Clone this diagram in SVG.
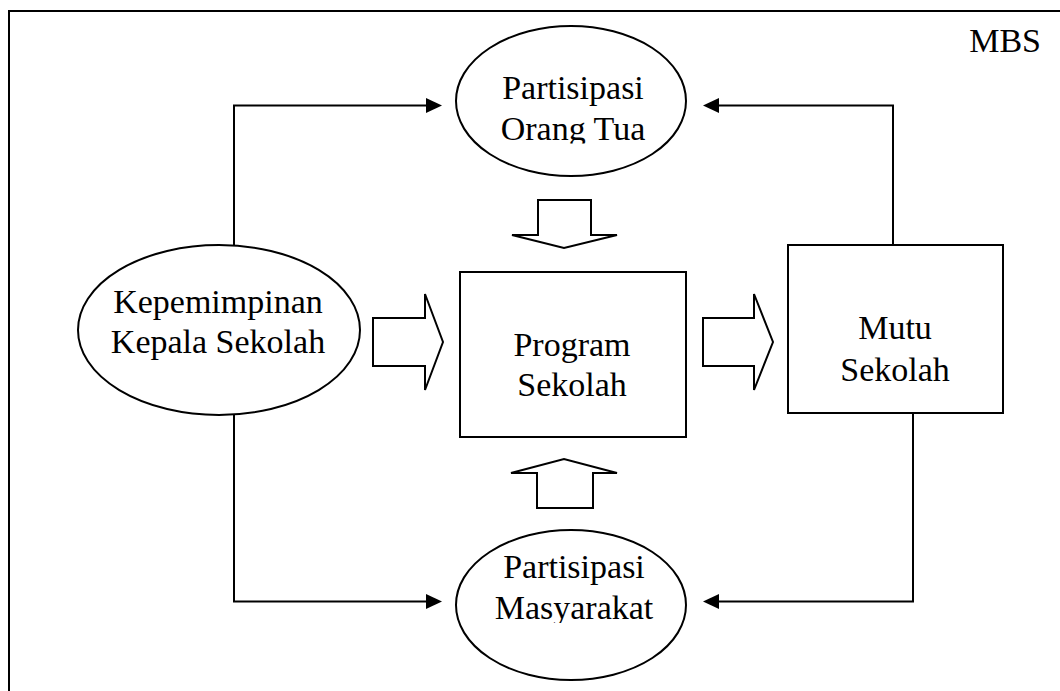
<svg xmlns="http://www.w3.org/2000/svg" width="1060" height="691" viewBox="0 0 1060 691">
<style>
.shape{fill:#fff;stroke:#000;stroke-width:2}
.conn{fill:none;stroke:#000;stroke-width:2}
.blk{fill:#fff;stroke:#000;stroke-width:2;stroke-linejoin:miter}
.t{font-family:"Liberation Serif","Times New Roman",serif;font-size:34px;fill:#000;text-anchor:middle}
</style>
<defs>
<marker id="ah" markerUnits="userSpaceOnUse" markerWidth="18" markerHeight="16" refX="10" refY="7.5" orient="auto">
<path d="M0,0 L16,7.5 L0,15 Z" fill="#000"/>
</marker>
<clipPath id="c1"><rect x="440" y="20" width="260" height="123.5"/></clipPath>
<clipPath id="c2"><rect x="440" y="520" width="260" height="103"/></clipPath>
</defs>
<rect id="frame" x="9" y="11" width="1070" height="700" fill="none" stroke="#000" stroke-width="2"/>
<g id="mbs"><text class="t" x="1041" y="52" style="text-anchor:end">MBS</text></g>
<g id="connectors">
<path class="conn" d="M234,248 V105.5 H436" marker-end="url(#ah)"/>
<path class="conn" d="M893,245 V105.5 H709" marker-end="url(#ah)"/>
<path class="conn" d="M234,412 V601.5 H436" marker-end="url(#ah)"/>
<path class="conn" d="M913,413 V601.5 H709" marker-end="url(#ah)"/>
<polygon class="blk" points="538,200 591,200 591,235 617,235 564,248 512,235 538,235"/>
<polygon class="blk" points="537,508 593,508 593,473 617,473 564,459 511,473 537,473"/>
<polygon class="blk" points="373,318 425,318 425,294 443,342 425,390 425,366 373,366"/>
<polygon class="blk" points="703,318 754,318 754,294 773,342 754,390 754,366 703,366"/>
</g>
<g id="ortu">
<ellipse class="shape" cx="571" cy="101" rx="115" ry="75"/>
<g clip-path="url(#c1)">
<text class="t" x="573" y="99">Partisipasi</text>
<text class="t" x="573" y="140">Orang Tua</text>
</g>
</g>
<g id="masyarakat">
<ellipse class="shape" cx="571" cy="605" rx="115" ry="75"/>
<g clip-path="url(#c2)">
<text class="t" x="574" y="578">Partisipasi</text>
<text class="t" x="574" y="619">Masyarakat</text>
</g>
</g>
<g id="kepemimpinan">
<ellipse class="shape" cx="219" cy="330" rx="141" ry="85"/>
<text class="t" x="218" y="313">Kepemimpinan</text>
<text class="t" x="218" y="353">Kepala Sekolah</text>
</g>
<g id="program">
<rect class="shape" x="460" y="272" width="226" height="165"/>
<text class="t" x="572" y="356">Program</text>
<text class="t" x="572" y="396">Sekolah</text>
</g>
<g id="mutu">
<rect class="shape" x="788" y="245" width="215" height="168"/>
<text class="t" x="895" y="339">Mutu</text>
<text class="t" x="895" y="381">Sekolah</text>
</g>
</svg>
